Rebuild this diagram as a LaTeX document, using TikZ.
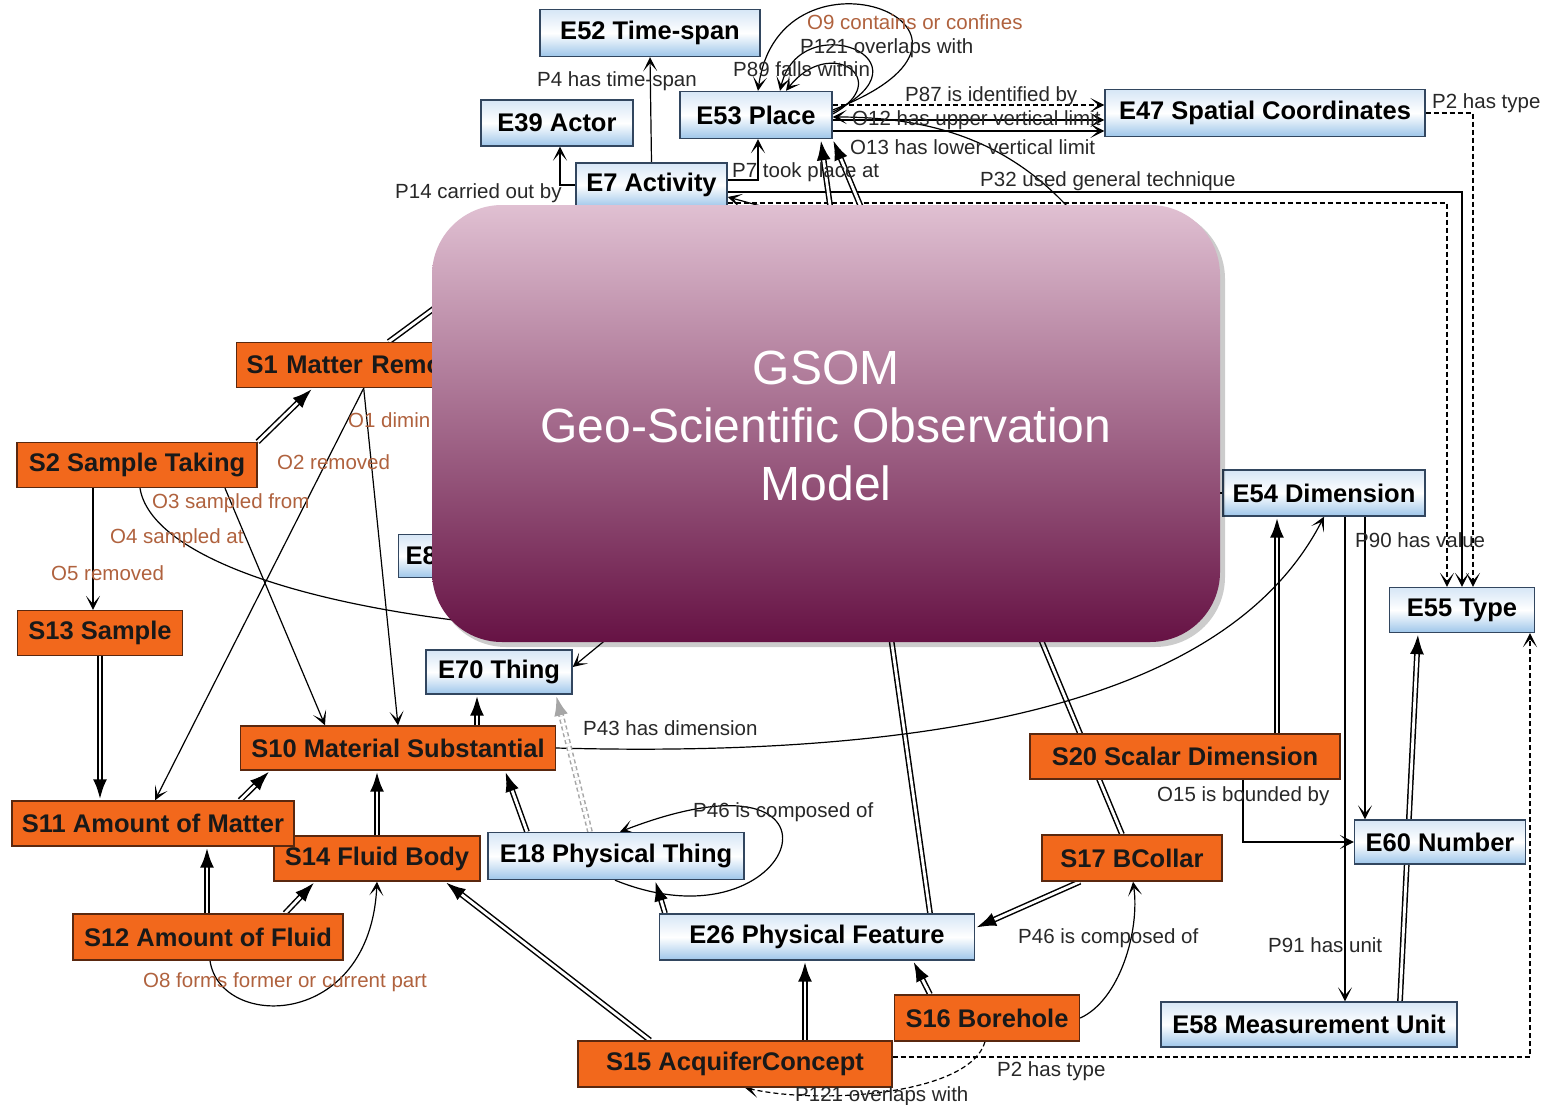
\documentclass[tikz,border=0pt]{standalone}
\usepackage{fontspec}
\setmainfont{Liberation Sans}
\usetikzlibrary{arrows.meta,decorations.markings,calc}
\pgfdeclarelayer{bgw}\pgfdeclarelayer{edges}\pgfdeclarelayer{top}
\pgfsetlayers{bgw,edges,main,top}
\definecolor{eborder}{RGB}{50,70,95}
\definecolor{etop}{RGB}{214,230,246}
\definecolor{ebot}{RGB}{158,198,234}
\definecolor{sfill}{RGB}{242,104,28}
\definecolor{sborder}{RGB}{90,40,15}
\definecolor{olab}{RGB}{176,98,62}
\definecolor{plab}{RGB}{40,40,40}
\definecolor{ovtop}{RGB}{224,192,210}
\definecolor{ovbot}{RGB}{102,18,68}
\begin{document}
\begin{tikzpicture}[x=1pt,y=-1pt,
 every node/.style={inner sep=0pt},
 ebox/.style={draw=eborder, line width=1.4pt, top color=etop, bottom color=ebot, middle color=white, font=\fontsize{25.5}{28}\selectfont\bfseries, minimum height=46pt},
 sbox/.style={draw=sborder, line width=1.4pt, fill=sfill, text=black!90, font=\fontsize{25.5}{28}\selectfont\bfseries, minimum height=45pt},
 plabel/.style={text=plab, font=\fontsize{20.5}{24}\selectfont, anchor=west},
 olabel/.style={plabel, text=olab},
 tip/.style={-{Stealth[length=14pt,width=14pt,inset=8pt]}},
 arr/.style={line width=1.2pt, tip},
 plain/.style={line width=1.2pt},
 dsh/.style={line width=1.2pt, dash pattern=on 5pt off 3pt, tip},
 dbl/.style={draw=black, line width=1.5pt, double=white, double distance=2.8pt},
 isa/.style={dbl, shorten >=12pt, postaction={decorate}, decoration={markings, mark=at position 1 with {\arrow{Latex[length=21pt,width=14pt]}}}},
 gisa/.style={draw=gray!70, line width=1.5pt, double=white, double distance=2.8pt, dash pattern=on 4pt off 3pt, shorten >=12pt, postaction={decorate}, decoration={markings, mark=at position 1 with {\arrow{Latex[length=21pt,width=14pt,color=gray!70]}}}}
]
\useasboundingbox (0,0) rectangle (1547,1105);
\begin{pgfonlayer}{bgw}
\fill[white] (0,0) rectangle (1547,1105);
\end{pgfonlayer}

% ---------- nodes ----------
\node[ebox, minimum width=220pt, minimum height=47pt] (e52) at (650,33) {E52 Time-span};
\node[ebox, minimum width=152pt] (e39) at (557,123) {E39 Actor};
\node[ebox, minimum width=152pt, minimum height=47pt] (e53) at (756,115) {E53 Place};
\node[ebox, minimum width=320pt, minimum height=47pt] (e47) at (1265,113) {E47 Spatial Coordinates};
\node[ebox, minimum width=151pt, minimum height=44pt] (e7) at (651.5,185) {E7 Activity};
\node[ebox, minimum width=202pt] (e54) at (1324,493) {E54 Dimension};
\node[ebox, minimum width=145pt, minimum height=45pt] (e55) at (1462,610) {E55 Type};
\node[ebox, anchor=west, minimum width=80pt, minimum height=43pt, text width=66pt, align=left] (e8) at (398,556) {E8};
\node[ebox, minimum width=146pt, minimum height=44pt] (e70) at (499,672) {E70 Thing};
\node[ebox, minimum width=256pt, minimum height=47pt] (e18) at (616,856) {E18 Physical Thing};
\node[ebox, minimum width=315pt] (e26) at (817,937) {E26 Physical Feature};
\node[ebox, minimum width=171pt, minimum height=44pt] (e60) at (1440,842) {E60 Number};
\node[ebox, minimum width=296pt, minimum height=45pt] (e58) at (1309,1024.5) {E58 Measurement Unit};

\node[sbox, anchor=west, minimum width=230pt, text width=210pt, align=left] (s1) at (236,365) {S1 Matter Remo};
\node[sbox, minimum width=240pt] (s2) at (137,465) {S2 Sample Taking};
\node[sbox, minimum width=165pt] (s13) at (100,633) {S13 Sample};
\node[sbox, minimum width=315pt, minimum height=44pt] (s10) at (398,748) {S10 Material Substantial};
\node[sbox, minimum width=206pt] (s14) at (377,858.5) {S14 Fluid Body};
\node[sbox, minimum width=282pt] (s11) at (153,823.5) {S11 Amount of Matter};
\node[sbox, minimum width=270pt, minimum height=46pt] (s12) at (208,937) {S12 Amount of Fluid};
\node[sbox, minimum width=314pt, minimum height=46pt] (s15) at (735,1064) {S15 AcquiferConcept};
\node[sbox, minimum width=185pt, minimum height=46pt] (s16) at (987,1018) {S16 Borehole};
\node[sbox, minimum width=180pt, minimum height=46pt] (s17) at (1132,858) {S17 BCollar};
\node[sbox, minimum width=310pt] (s20) at (1185,756.5) {S20 Scalar Dimension};

% hidden ends under the overlay
\coordinate (h1) at (830,225);
\coordinate (h2) at (1075,215);
\coordinate (h3) at (470,622);
\coordinate (h4) at (470,282);
\coordinate (h5) at (608,638);
\coordinate (h6) at (1205,493);

% ---------- labels ----------
\node[plabel] (l1) at (537,81) {P4 has time-span};
\node[plabel] (l2) at (395,193) {P14 carried out by};
\node[plabel] (l3) at (732,172) {P7 took place at};
\node[olabel] (l4) at (807,22) {O9 contains or confines};
\node[plabel] (l5) at (800,48) {P121 overlaps with};
\node[plabel] (l6) at (733,69) {P89 falls within};
\node[plabel] (l7) at (905,96) {P87 is identified by};
\node[plabel] (l8) at (852,120) {O12 has upper vertical limit};
\node[plabel] (l9) at (850,147) {O13 has lower vertical limit};
\node[plabel] (l10) at (980,181) {P32 used general technique};
\node[plabel] (l11) at (1432,103) {P2 has type};
\node[plabel] (l12) at (1355,540) {P90 has value};
\node[plabel] (l13) at (1157,796) {O15 is bounded by};
\node[plabel] (l14) at (1268,945) {P91 has unit};
\node[plabel] (l15) at (1018,938) {P46 is composed of};
\node[plabel] (l16) at (997,1071) {P2 has type};
\node[plabel] (l17) at (795,1096) {P121 overlaps with};
\node[plabel] (l18) at (693,812) {P46 is composed of};
\node[plabel] (l19) at (583,728) {P43 has dimension};
\node[olabel] (l20) at (143,982) {O8 forms former or current part};
\node[olabel] (l21) at (348,420) {O1 dimin};
\node[olabel] (l22) at (277,462) {O2 removed};
\node[olabel] (l23) at (152,503) {O3 sampled from};
\node[olabel] (l24) at (110,538) {O4 sampled at};
\node[olabel] (l25) at (51,573) {O5 removed};

% ---------- connectors ----------
\begin{pgfonlayer}{edges}
% top
\draw[arr] (e7.north) -- (e52.south);
\draw[arr] (e7.west) -| ([xshift=3pt]e39.south);
\draw[arr] ([yshift=5pt]e7.east) -| ([xshift=2pt]e53.south);
\draw[arr] ([yshift=5pt]e53.east) .. controls (1040,30) and (780,-70) .. ([xshift=2pt]e53.north);
\draw[arr] ([yshift=3pt]e53.east) .. controls (940,60) and (800,5) .. ([xshift=24pt]e53.north);
\draw[arr] ([yshift=1pt]e53.east) .. controls (895,80) and (830,35) .. ([xshift=30pt]e53.north);
\draw[dsh] ([yshift=10pt]e53.east) -- ([yshift=8pt]e47.west);
\draw[arr] ([yshift=-5pt]e53.east) -- ([yshift=-7pt]e47.west);
\draw[arr] ([yshift=-16pt]e53.east) -- ([yshift=-18pt]e47.west);
\draw[arr] (h2) .. controls (1010,140) and (930,117) .. ([yshift=-2pt]e53.east);
\draw[arr] (h1) -- ([yshift=-12pt]e7.east);
\draw[arr] ([yshift=-7pt]e7.east) -| (e55.north);
\draw[dsh] ([yshift=-18pt]e7.east) -| ([xshift=-15pt]e55.north);
\draw[dsh] (e47.east) -| ([xshift=11pt]e55.north);
\draw[isa] ([xshift=113pt]e26.north) -- ([xshift=-12pt]e53.south east);
\draw[isa] ([xshift=-10pt]s17.north) -- (e53.south east);
% right
\draw[isa] ([xshift=92pt]s20.north) -- ([xshift=-47pt]e54.south);
\draw[arr] ([xshift=41pt]e54.south) -- ([xshift=-75pt]e60.north);
\draw[arr] ([xshift=21pt]e54.south) -- ([xshift=36pt]e58.north);
\draw[arr] ([xshift=58pt]s20.south) |- (e60.west);
\draw[isa] ([xshift=91pt]e58.north) -- ([xshift=-44pt]e55.south);
\draw[dsh] ([yshift=7pt]s15.east) -| ([xshift=68pt]e55.south);
\draw[plain] (h6) -- (e54.west);
\draw[arr] (s10.east) .. controls (1000,760) and (1240,680) .. (e54.south);
% middle / bottom
\draw[gisa] ([xshift=-26pt]e18.north) -- ([xshift=57pt]e70.south);
\draw[isa] ([xshift=79pt]s10.north) -- ([xshift=-22pt]e70.south);
\draw[arr] (h5) -- ([yshift=5pt]e70.east);
\draw[isa] ([xshift=-89pt]e18.north) -- ([xshift=107pt]s10.south);
\draw[isa] (s14.north) -- ([xshift=-21pt]s10.south);
\draw[isa] ([xshift=87pt]s11.north) -- ([xshift=-128pt]s10.south);
\draw[isa] ([xshift=-1pt]s12.north) -- ([xshift=54pt]s11.south);
\draw[isa] ([xshift=77pt]s12.north) -- ([xshift=-62pt]s14.south);
\draw[arr] ([xshift=2pt]s12.south) .. controls (220,1030) and (370,1030) .. (s14.south);
\draw[isa] ([xshift=-85pt]s15.north) -- ([xshift=68pt]s14.south);
\draw[isa] ([xshift=70pt]s15.north) -- ([xshift=-12pt]e26.south);
\draw[isa] ([xshift=-57pt]s16.north) -- ([xshift=96pt]e26.south);
\draw[arr] (s16.east) .. controls (1120,1000) and (1140,930) .. ([xshift=1pt]s17.south);
\draw[isa] ([xshift=-52pt]s17.south) -- ([yshift=9pt]e26.east);
\draw[isa] ([xshift=-152pt]e26.north) -- ([xshift=39pt]e18.south);
\draw[arr] ([xshift=-1pt]e18.south) .. controls (800,955) and (870,735) .. ([xshift=4pt]e18.north);
\draw[dsh] ([xshift=-2pt]s16.south) .. controls (970,1095) and (820,1105) .. ([xshift=10pt]s15.south);
% left
\draw[isa] (s2.north east) -- ([xshift=-39pt]s1.south);
\draw[dbl] ([xshift=37pt]s1.north) -- (h4);
\draw[arr] ([xshift=-44pt]s2.south) -- ([xshift=-7pt]s13.north);
\draw[isa] (s13.south) -- ([xshift=-53pt]s11.north);
\draw[arr] ([xshift=12pt]s1.south) -- ([xshift=2pt]s11.north);
\draw[arr] ([xshift=12pt]s1.south) -- (s10.north);
\draw[arr] ([xshift=88pt]s2.south) -- ([xshift=-73pt]s10.north);
\draw[plain] ([xshift=3pt]s2.south) .. controls (150,550) and (280,600) .. (h3);
\end{pgfonlayer}

% ---------- overlay ----------
\begin{pgfonlayer}{top}
\fill[black, opacity=0.2, rounded corners=70pt] (436,209) rectangle (1225,647);
\shade[top color=ovtop, bottom color=ovbot, rounded corners=70pt] (432,205) rectangle (1220,642);
\node[font=\fontsize{48}{58}\selectfont, text=white, align=center] (title) at (826,426) {GSOM\\Geo-Scientific Observation\\Model};
\end{pgfonlayer}
\end{tikzpicture}
\end{document}
